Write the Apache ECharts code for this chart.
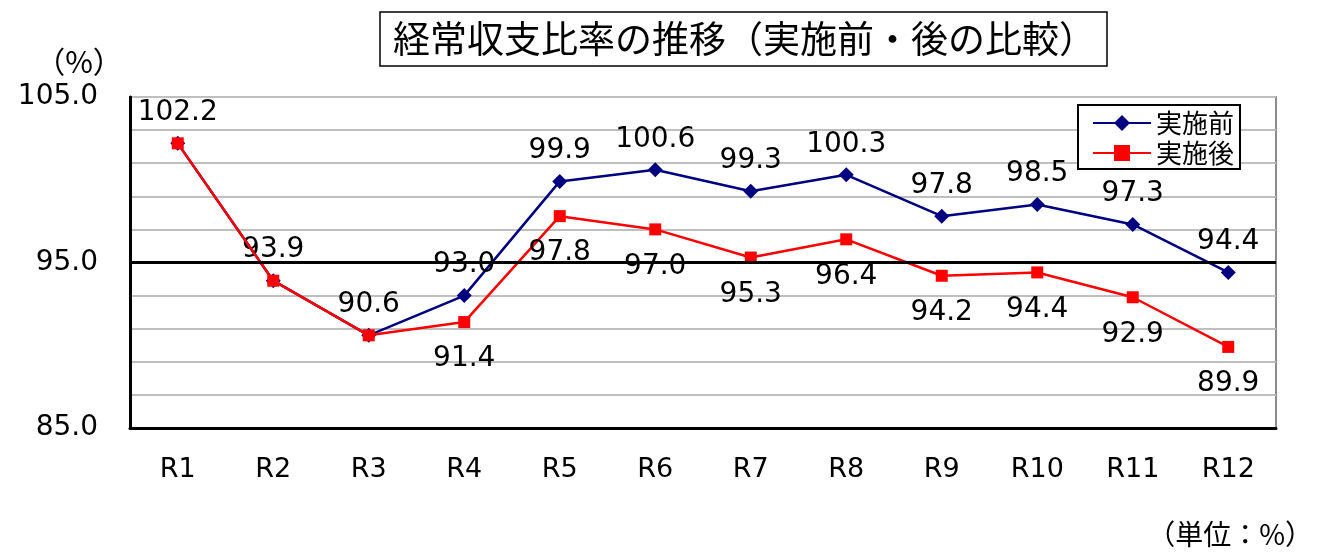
<!DOCTYPE html>
<html>
<head>
<meta charset="utf-8">
<script src="https://cdn.jsdelivr.net/npm/echarts@6/dist/echarts.min.js"></script>
<style>
html,body{margin:0;padding:0;background:#fff;}
#c{width:1317px;height:553px;}
</style>
</head>
<body>
<div id="c"></div>
<script>
var categories = ['R1','R2','R3','R4','R5','R6','R7','R8','R9','R10','R11','R12'];
var before = [102.2, 93.9, 90.6, 93.0, 99.9, 100.6, 99.3, 100.3, 97.8, 98.5, 97.3, 94.4];
var after = [102.2, 93.9, 90.6, 91.4, 97.8, 97.0, 95.3, 96.4, 94.2, 94.4, 92.9, 89.9];
var titleText = '経常収支比率の推移（実施前・後の比較）';
var seriesNames = ['実施前', '実施後'];

var numFont = '"DejaVu Sans", sans-serif';
var jpFont = '"Noto Sans CJK JP", sans-serif';

var chart = echarts.init(document.getElementById('c'));
chart.setOption({
  animation: false,
  backgroundColor: '#fff',
  title: {
    text: titleText,
    left: 380,
    top: 12,
    padding: [6, 11, 6, 13],
    borderColor: '#000',
    borderWidth: 1.5,
    textStyle: { fontSize: 37, fontWeight: 'normal', color: '#000', fontFamily: jpFont, lineHeight: 42 }
  },
  legend: {
    data: seriesNames,
    orient: 'vertical',
    left: 1078,
    top: 105,
    padding: [5, 6, 3, 14],
    itemGap: 4,
    itemWidth: 58,
    itemHeight: 20,
    borderColor: '#000',
    borderWidth: 2,
    backgroundColor: '#fff',
    textStyle: { fontSize: 26, color: '#000', fontFamily: jpFont }
  },
  grid: {
    left: 130, right: 41, top: 97, bottom: 125,
    show: true, borderColor: '#8c8c8c', borderWidth: 2, backgroundColor: 'transparent'
  },
  graphic: [
    { type: 'text', style: { x: 79, y: 47, text: '（%）', align: 'center', font: '30px "Noto Sans CJK JP"', fill: '#000' } },
    { type: 'text', right: 4, top: 520, style: { text: '（単位：%）', font: '28px "Noto Sans CJK JP"', fill: '#000' } }
  ],
  xAxis: {
    type: 'category',
    data: categories,
    boundaryGap: true,
    axisLine: { lineStyle: { color: '#000', width: 3 } },
    axisTick: { inside: true, length: 8, lineStyle: { color: '#000', width: 2 } },
    axisLabel: { margin: 28, fontSize: 27, color: '#000', fontFamily: numFont },
    splitLine: { show: false }
  },
  yAxis: {
    type: 'value',
    min: 85, max: 105, interval: 2,
    axisLine: { show: true, lineStyle: { color: '#000', width: 3 } },
    axisTick: { show: false },
    axisLabel: {
      margin: 32, fontSize: 28, color: '#000', fontFamily: numFont,
      formatter: function (v) { return (Math.round(v - 85) % 10 === 0) ? v.toFixed(1) : ''; }
    },
    splitLine: { show: true, lineStyle: { color: '#bfbfbf', width: 2 } }
  },
  series: [
    {
      name: seriesNames[0],
      type: 'line',
      data: before,
      symbol: 'diamond',
      symbolSize: 15,
      lineStyle: { color: '#000080', width: 2.5 },
      itemStyle: { color: '#000080' },
      label: {
        show: true, position: 'top', distance: 9,
        fontSize: 28, color: '#000', fontFamily: numFont,
        formatter: function (p) { return p.value.toFixed(1); }
      },
      markLine: {
        silent: true, symbol: 'none', label: { show: false },
        lineStyle: { color: '#000', width: 3, type: 'solid' },
        data: [{ yAxis: 95 }]
      },
      z: 2
    },
    {
      name: seriesNames[1],
      type: 'line',
      data: after,
      symbol: 'rect',
      symbolSize: 12,
      lineStyle: { color: '#ff0000', width: 2.5 },
      itemStyle: { color: '#ff0000' },
      label: {
        show: true, position: 'bottom', distance: 17,
        fontSize: 28, color: '#000', fontFamily: numFont,
        formatter: function (p) { return (p.value === before[p.dataIndex]) ? '' : p.value.toFixed(1); }
      },
      z: 3
    }
  ]
});
</script>
</body>
</html>
